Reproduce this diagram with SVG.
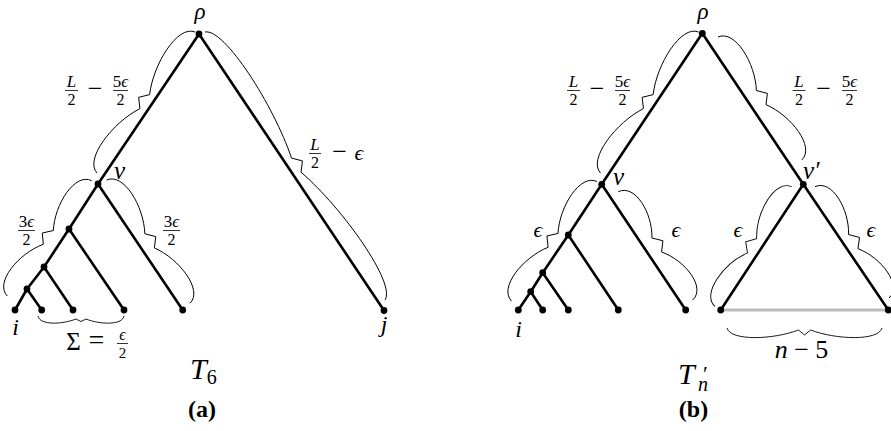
<svg xmlns="http://www.w3.org/2000/svg" width="891" height="431" viewBox="0 0 891 431" font-family="'Liberation Serif', 'Times New Roman', serif">
<style>
.e{stroke:#000;stroke-width:2.6;stroke-linecap:round;fill:none}
.g{stroke:#bbb;stroke-width:3}
.b{fill:none;stroke:#000;stroke-width:0.9;stroke-linejoin:miter}
.d{fill:#000}
.m{font-style:italic;fill:#000}
.u{fill:#000}
.c{text-anchor:middle}
.fb{stroke:#000;stroke-width:0.8}
</style>
<rect width="891" height="431" fill="#fff"/>
<defs>
<path id="bA" d="M0,0C3.9,-18.4 50.3,-16.1 77.4,-1.5L85.9,-9L94.4,-1.5C121.4,-16.1 167.8,-18.4 171.7,0"/>
<path id="bB" d="M0,0C3.3,-18.4 42.8,-16.1 65.9,-1.5L74.4,-9L82.9,-1.5C106,-16.1 145.5,-18.4 148.8,0"/>
</defs>
<g id="connectors">
<line class="g" x1="720.7" y1="310" x2="888.3" y2="310"/>
<path class="e" d="M199,34L98,184M199,34L384,310.5M98,184L69,229M98,184L182.7,310M69,229L44,267M69,229L124,310M44,267L27,289M44,267L73,310M27,289L15,310M27,289L41.7,310"/>
<path class="e" d="M702.3,33.3L601.7,184.3M702.3,33.3L803.3,184.3M803.3,184.3L888.3,310M803.3,184.3L720.7,310M601.7,184.3L568.3,235M601.7,184.3L685.7,310M568.3,235L542.7,272.7M568.3,235L618.3,310M542.7,272.7L530.7,291.7M542.7,272.7L568.3,310M530.7,291.7L518.3,310M530.7,291.7L542.7,310"/>
</g>
<g id="braces">
<use href="#bA" class="b" transform="translate(97,173) rotate(-55.2)"/>
<path class="b" transform="translate(205,32) rotate(56.1)" d="M0,0C7.6,-18.4 99.4,-16.1 152.9,-1.5L161.4,-9L169.9,-1.5C223.4,-16.1 315.2,-18.4 322.8,0"/>
<use href="#bB" class="b" transform="translate(106.7,180) rotate(55.96)"/>
<path class="b" transform="translate(7.3,296) rotate(-53.8)" d="M0,0C3.1,-18.4 40.9,-16.1 63,-1.5L71.5,-9L80,-1.5C102,-16.1 139.8,-18.4 142.9,0"/>
<path class="b" transform="translate(124,316) rotate(180)" d="M0,0C1.9,-9.6 24.7,-8.4 38,-3L43,-5.5L48,-3C61.3,-8.4 84.1,-9.6 86,0"/>
<use href="#bA" class="b" transform="translate(600.5,173) rotate(-55.2)"/>
<use href="#bB" class="b" transform="translate(718,37) rotate(55.67)"/>
<path class="b" transform="translate(511.5,301) rotate(-54.4)" d="M0,0C3.2,-18.4 42.2,-16.1 65,-1.5L73.5,-9L82,-1.5C104.7,-16.1 143.7,-18.4 146.9,0"/>
<path class="b" transform="translate(618.3,191.7) rotate(55.5)" d="M0,0C2.9,-18.4 37.2,-16.1 57.2,-1.5L65.7,-9L74.2,-1.5C94.2,-16.1 128.5,-18.4 131.4,0"/>
<path class="b" transform="translate(715,306.5) rotate(-57.4)" d="M0,0C3.1,-18.4 40.7,-16.1 62.6,-1.5L71.1,-9L79.6,-1.5C101.5,-16.1 139.1,-18.4 142.2,0"/>
<path class="b" transform="translate(815,186.7) rotate(56.4)" d="M0,0C2.9,-18.4 37.9,-16.1 58.4,-1.5L66.9,-9L75.4,-1.5C95.8,-16.1 130.8,-18.4 133.7,0"/>
<path class="b" transform="translate(882,328) rotate(180)" d="M0,0C3.6,-13.3 46.5,-11.6 71.5,-2L77.5,-7L83.5,-2C108.5,-11.6 151.4,-13.3 155,0"/>
</g>
<g id="a-rho"><circle class="d" cx="199" cy="34" r="3.4"/><text class="m c" x="200" y="19" font-size="23">ρ</text></g>
<g id="a-v"><circle class="d" cx="98" cy="184" r="3.4"/><text class="m" x="114" y="179" font-size="25">v</text></g>
<g id="a-n2"><circle class="d" cx="69" cy="229" r="3.4"/></g>
<g id="a-n3"><circle class="d" cx="44" cy="267" r="3.4"/></g>
<g id="a-n4"><circle class="d" cx="27" cy="289" r="3.4"/></g>
<g id="a-i"><circle class="d" cx="15" cy="310" r="3.4"/><text class="m c" x="15.5" y="335" font-size="24">i</text></g>
<g id="a-l2"><circle class="d" cx="41.7" cy="310" r="3.4"/></g>
<g id="a-l3"><circle class="d" cx="73" cy="310" r="3.4"/></g>
<g id="a-l4"><circle class="d" cx="124" cy="310" r="3.4"/></g>
<g id="a-l5"><circle class="d" cx="182.7" cy="310" r="3.4"/></g>
<g id="a-j"><circle class="d" cx="384" cy="310.5" r="3.4"/><text class="m c" x="384" y="332" font-size="24">j</text></g>
<g id="b-rho"><circle class="d" cx="702.3" cy="33.3" r="3.4"/><text class="m c" x="703" y="19" font-size="23">ρ</text></g>
<g id="b-v"><circle class="d" cx="601.7" cy="184.3" r="3.4"/><text class="m" x="613" y="185" font-size="25">v</text></g>
<g id="b-vp"><circle class="d" cx="803.3" cy="184.3" r="3.4"/><text class="m" x="803" y="179" font-size="25">v′</text></g>
<g id="b-n2"><circle class="d" cx="568.3" cy="235" r="3.4"/></g>
<g id="b-n3"><circle class="d" cx="542.7" cy="272.7" r="3.4"/></g>
<g id="b-n4"><circle class="d" cx="530.7" cy="291.7" r="3.4"/></g>
<g id="b-i"><circle class="d" cx="518.3" cy="310" r="3.4"/><text class="m c" x="518.5" y="337" font-size="24">i</text></g>
<g id="b-l2"><circle class="d" cx="542.7" cy="310" r="3.4"/></g>
<g id="b-l3"><circle class="d" cx="568.3" cy="310" r="3.4"/></g>
<g id="b-l4"><circle class="d" cx="618.3" cy="310" r="3.4"/></g>
<g id="b-l5"><circle class="d" cx="685.7" cy="310" r="3.4"/></g>
<g id="b-c1"><circle class="d" cx="720.7" cy="310" r="3.4"/></g>
<g id="b-c2"><circle class="d" cx="888.3" cy="310" r="3.4"/></g>
<g id="labels">
<text class="m c" x="71.5" y="87" font-size="17">L</text><line class="fb" x1="65" y1="90.5" x2="78" y2="90.5"/><text class="u c" x="71.5" y="105" font-size="16">2</text>
<text class="u c" x="95" y="97" font-size="26">−</text>
<text class="m c" x="120.5" y="87" font-size="17"><tspan font-style="normal">5</tspan>ϵ</text><line class="fb" x1="113" y1="90.5" x2="128" y2="90.5"/><text class="u c" x="120.5" y="105" font-size="16">2</text>
<text class="m c" x="315" y="150" font-size="17">L</text><line class="fb" x1="309" y1="153.5" x2="321" y2="153.5"/><text class="u c" x="315" y="168" font-size="16">2</text>
<text class="u c" x="339.5" y="160" font-size="26">−</text>
<text class="m c" x="359" y="160" font-size="22">ϵ</text>
<text class="m c" x="171.5" y="227" font-size="17"><tspan font-style="normal">3</tspan>ϵ</text><line class="fb" x1="163" y1="230.5" x2="180" y2="230.5"/><text class="u c" x="171.5" y="245" font-size="16">2</text>
<text class="m c" x="26.5" y="227" font-size="17"><tspan font-style="normal">3</tspan>ϵ</text><line class="fb" x1="18" y1="230.5" x2="35" y2="230.5"/><text class="u c" x="26.5" y="245" font-size="16">2</text>
<text class="u c" x="73.5" y="350" font-size="25">Σ</text>
<text class="u c" x="96.5" y="349" font-size="28">=</text>
<text class="m c" x="122.5" y="340" font-size="16">ϵ</text><line class="fb" x1="117" y1="343.5" x2="128" y2="343.5"/><text class="u c" x="122.5" y="358" font-size="15">2</text>
<text class="m" x="190" y="379" font-size="30">T<tspan font-style="normal" font-size="20" dy="5">6</tspan></text>
<text class="u c" x="202" y="417" font-size="24" font-weight="bold">(a)</text>
<text class="m c" x="573.5" y="87" font-size="17">L</text><line class="fb" x1="567" y1="90.5" x2="580" y2="90.5"/><text class="u c" x="573.5" y="105" font-size="16">2</text>
<text class="u c" x="597" y="97" font-size="26">−</text>
<text class="m c" x="622.5" y="87" font-size="17"><tspan font-style="normal">5</tspan>ϵ</text><line class="fb" x1="615" y1="90.5" x2="630" y2="90.5"/><text class="u c" x="622.5" y="105" font-size="16">2</text>
<text class="m c" x="799" y="87" font-size="17">L</text><line class="fb" x1="792.5" y1="90.5" x2="805.5" y2="90.5"/><text class="u c" x="799" y="105" font-size="16">2</text>
<text class="u c" x="823.5" y="97" font-size="26">−</text>
<text class="m c" x="849.5" y="87" font-size="17"><tspan font-style="normal">5</tspan>ϵ</text><line class="fb" x1="842" y1="90.5" x2="857" y2="90.5"/><text class="u c" x="849.5" y="105" font-size="16">2</text>
<text class="m c" x="538" y="237" font-size="22">ϵ</text>
<text class="m c" x="676" y="237" font-size="22">ϵ</text>
<text class="m c" x="738" y="237" font-size="22">ϵ</text>
<text class="m c" x="871" y="237" font-size="22">ϵ</text>
<text class="u c" x="801.5" y="358" font-size="26"><tspan font-style="italic">n</tspan> − 5</text>
<text class="m" x="678" y="384" font-size="30">T</text><text class="u" x="703" y="381" font-size="22">′</text><text class="m" x="698" y="391" font-size="20">n</text>
<text class="u c" x="693.5" y="417" font-size="24" font-weight="bold">(b)</text>
</g>
</svg>
